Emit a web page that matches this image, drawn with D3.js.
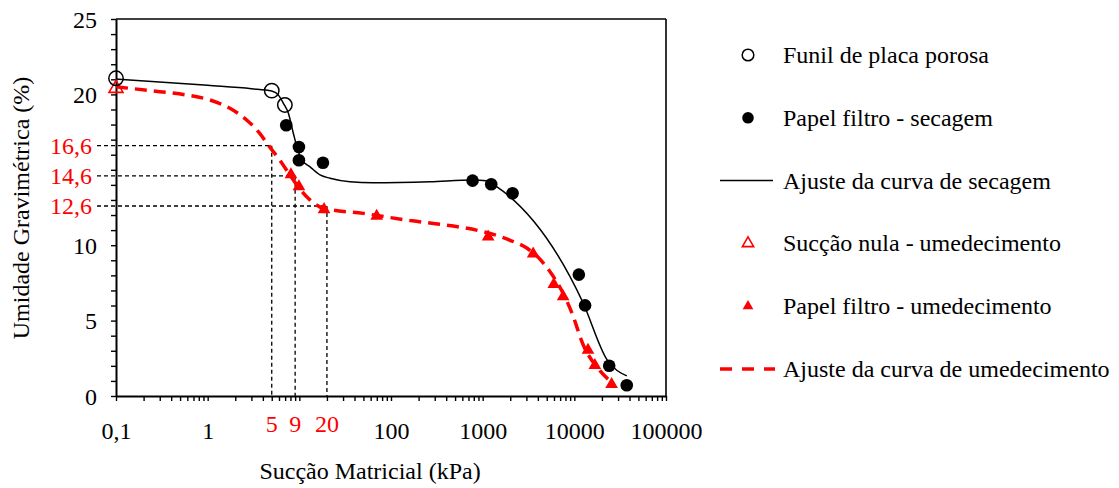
<!DOCTYPE html>
<html>
<head>
<meta charset="utf-8">
<script src="https://cdn.jsdelivr.net/npm/d3@7/dist/d3.min.js"></script>
<style>
  html, body { margin: 0; padding: 0; background: #fff; }
  svg { display: block; }
</style>
</head>
<body>
<svg id="chart" width="1119" height="488"></svg>
<script>
// Matric suction (kPa) and gravimetric water content (%)
const funilX = [0.1, 5.0, 6.95];
const funilY = [21.07, 20.25, 19.30];

const secagemX = [7.2, 9.9, 9.9, 18.1, 776, 1240, 2118, 11200, 13100, 24000, 37300];
const secagemY = [17.95, 16.51, 15.63, 15.47, 14.28, 14.04, 13.44, 8.05, 6.01, 2.01, 0.71];

const nulaX = [0.1];
const nulaY = [20.4];

const umedX = [8.1, 9.9, 18.6, 69.8, 1148, 3556, 5970, 7550, 14100, 16750, 25500];
const umedY = [14.68, 13.89, 12.37, 11.93, 10.55, 9.43, 7.41, 6.6, 3.05, 2.03, 0.77];

// Fitted drying curve
const ajusteSecX = [0.1, 1, 3, 5, 6, 6.7, 7.6, 8.6, 9.4, 10.6, 13, 16.8, 21.6, 35.6, 63.5, 265, 780, 1100, 1420, 12300, 22800, 37400];
const ajusteSecY = [21.02, 20.6, 20.38, 20.22, 19.9, 19.41, 18.75, 17.42, 16.53, 15.65, 15.21, 14.66, 14.44, 14.21, 14.14, 14.21, 14.33, 14.28, 13.88, 6.25, 2.39, 1.33];

// Fitted wetting curve
const ajusteUmX = [0.1, 0.3, 0.59, 1.06, 1.75, 2.66, 3.7, 4.58, 6.1, 8.6, 12.5, 18.3, 49.8, 148, 204, 1965, 3055, 4620, 9600, 12300, 18800, 26300];
const ajusteUmY = [20.5, 20.18, 19.96, 19.63, 19.08, 18.3, 17.42, 16.64, 15.65, 14.32, 13.11, 12.45, 12.11, 11.67, 11.56, 10.34, 9.8, 8.8, 5.37, 3.49, 1.72, 0.84];

// Reference readings marked with guide lines
const guiaX = [5, 9, 20];
const guiaY = [16.6, 14.6, 12.6];
const guiaLabelX = ["5", "9", "20"];
const guiaLabelY = ["16,6", "14,6", "12,6"];

// Axis tick labels (the 10 and 15 positions carry the guide labels instead)
const xDecades = [0.1, 1, 10, 100, 1000, 10000, 100000];
const xTickLabels = ["0,1", "1", "", "100", "1000", "10000", "100000"];
const yMajor = [0, 5, 10, 15, 20, 25];
const yTickLabels = ["0", "5", "10", "", "20", "25"];

const legendNames = [
  "Funil de placa porosa",
  "Papel filtro - secagem",
  "Ajuste da curva de secagem",
  "Sucção nula - umedecimento",
  "Papel filtro - umedecimento",
  "Ajuste da curva de umedecimento"
];

const FONT = "'Liberation Serif', 'Times New Roman', 'DejaVu Serif', serif";
const RED = "#ff0000";
const svg = d3.select("#chart").attr("font-family", FONT);
const L = 116, T = 19, R = 666, B = 396;

const x = d3.scaleLog().domain([0.1, 100000]).range([L, R]);
const y = d3.scaleLinear().domain([0, 25]).range([B, T]);

// x ticks: every integer multiple within each decade
const xAll = [];
for (let i = 0; i < xDecades.length; i++) {
  const d = xDecades[i];
  if (i < xDecades.length - 1) for (let m = 1; m < 10; m++) xAll.push(d * m);
  else xAll.push(d);
}
const decadeLabel = new Map(xDecades.map((d, i) => [d.toPrecision(3), xTickLabels[i]]));
const yLabel = new Map(yMajor.map((d, i) => [d, yTickLabels[i]]));

// Plot frame (top and right)
svg.append("line").attr("x1", L).attr("x2", R).attr("y1", T).attr("y2", T)
  .attr("stroke", "#000").attr("stroke-width", 1.6);
svg.append("line").attr("x1", R).attr("x2", R).attr("y1", T).attr("y2", B)
  .attr("stroke", "#000").attr("stroke-width", 1.6);

// Guide lines
const guides = svg.append("g").attr("stroke", "#000").attr("stroke-width", 1.3)
  .attr("stroke-dasharray", "4,3").attr("fill", "none");
guiaX.forEach((gx, i) => {
  guides.append("line").attr("x1", 97).attr("x2", x(gx))
    .attr("y1", y(guiaY[i])).attr("y2", y(guiaY[i]));
  guides.append("line").attr("x1", x(gx)).attr("x2", x(gx))
    .attr("y1", y(guiaY[i])).attr("y2", y(0));
});

// Axes
const xAxis = svg.append("g").attr("transform", `translate(0,${B})`)
  .call(d3.axisBottom(x).tickValues(xAll).tickSize(5).tickSizeOuter(0).tickPadding(21)
    .tickFormat(d => decadeLabel.get(d.toPrecision(3)) || ""));
const yAxis = svg.append("g").attr("transform", `translate(${L},0)`)
  .call(d3.axisLeft(y).tickValues(d3.range(0, 26)).tickSize(5).tickSizeOuter(0).tickPadding(14)
    .tickFormat(d => yLabel.has(d) ? yLabel.get(d) : ""));
[xAxis, yAxis].forEach(a => {
  a.attr("font-family", FONT).attr("font-size", 24);
  a.select(".domain").attr("stroke-width", 2);
  a.selectAll(".tick line").attr("stroke-width", 1.4);
  a.selectAll("text").attr("fill", "#000");
});
yAxis.selectAll("text").attr("dy", "0.34em");

// Guide labels
guiaY.forEach((gy, i) => {
  svg.append("text").attr("x", 92).attr("y", y(gy)).attr("dy", "0.34em")
    .attr("text-anchor", "end").attr("font-size", 24).attr("fill", RED).text(guiaLabelY[i]);
});
guiaX.forEach((gx, i) => {
  svg.append("text").attr("x", x(gx)).attr("y", 432)
    .attr("text-anchor", "middle").attr("font-size", 24).attr("fill", RED).text(guiaLabelX[i]);
});

// Fitted curves
const lineGen = d3.line().x(d => x(d[0])).y(d => y(d[1])).curve(d3.curveMonotoneX);
svg.append("path").datum(ajusteSecX.map((v, i) => [v, ajusteSecY[i]]))
  .attr("d", lineGen).attr("fill", "none").attr("stroke", "#000").attr("stroke-width", 1.5);
svg.append("path").datum(ajusteUmX.map((v, i) => [v, ajusteUmY[i]]))
  .attr("d", lineGen).attr("fill", "none").attr("stroke", RED).attr("stroke-width", 3.5)
  .attr("stroke-dasharray", "12,7");

// Markers
const tri = d3.symbol().type(d3.symbolTriangle);
svg.append("g").selectAll("path").data(umedX.map((v, i) => [v, umedY[i]])).join("path")
  .attr("d", tri.size(70)()).attr("transform", d => `translate(${x(d[0])},${y(d[1])})`)
  .attr("fill", RED);
svg.append("g").selectAll("path").data(nulaX.map((v, i) => [v, nulaY[i]])).join("path")
  .attr("d", tri.size(85)()).attr("transform", d => `translate(${x(d[0])},${y(d[1])})`)
  .attr("fill", "none").attr("stroke", RED).attr("stroke-width", 1.6);
svg.append("g").selectAll("circle").data(funilX.map((v, i) => [v, funilY[i]])).join("circle")
  .attr("cx", d => x(d[0])).attr("cy", d => y(d[1])).attr("r", 7.2)
  .attr("fill", "none").attr("stroke", "#000").attr("stroke-width", 1.5);
svg.append("g").selectAll("circle").data(secagemX.map((v, i) => [v, secagemY[i]])).join("circle")
  .attr("cx", d => x(d[0])).attr("cy", d => y(d[1])).attr("r", 6.3).attr("fill", "#000");

// Axis titles
svg.append("text").attr("x", 370).attr("y", 479).attr("text-anchor", "middle")
  .attr("font-size", 24).text("Sucção Matricial (kPa)");
svg.append("text").attr("transform", "translate(29,208) rotate(-90)").attr("text-anchor", "middle")
  .attr("font-size", 24).text("Umidade Gravimétrica (%)");

// Legend
const legY = d3.range(legendNames.length).map(i => 55 + i * 62.8);
const leg = svg.append("g");
legendNames.forEach((name, i) => {
  leg.append("text").attr("x", 783).attr("y", legY[i] + 8).attr("font-size", 24).text(name);
});
const mx = 748;
leg.append("circle").attr("cx", mx).attr("cy", legY[0]).attr("r", 5.8)
  .attr("fill", "none").attr("stroke", "#000").attr("stroke-width", 1.5);
leg.append("circle").attr("cx", mx).attr("cy", legY[1]).attr("r", 5.8).attr("fill", "#000");
leg.append("line").attr("x1", 720).attr("x2", 773).attr("y1", legY[2]).attr("y2", legY[2])
  .attr("stroke", "#000").attr("stroke-width", 1.5);
leg.append("path").attr("d", tri.size(55)()).attr("transform", `translate(${mx},${legY[3]})`)
  .attr("fill", "none").attr("stroke", RED).attr("stroke-width", 1.6);
leg.append("path").attr("d", tri.size(50)()).attr("transform", `translate(${mx},${legY[4]})`)
  .attr("fill", RED);
leg.append("line").attr("x1", 720).attr("x2", 775).attr("y1", legY[5]).attr("y2", legY[5])
  .attr("stroke", RED).attr("stroke-width", 3.5).attr("stroke-dasharray", "12,10");
</script>
</body>
</html>
